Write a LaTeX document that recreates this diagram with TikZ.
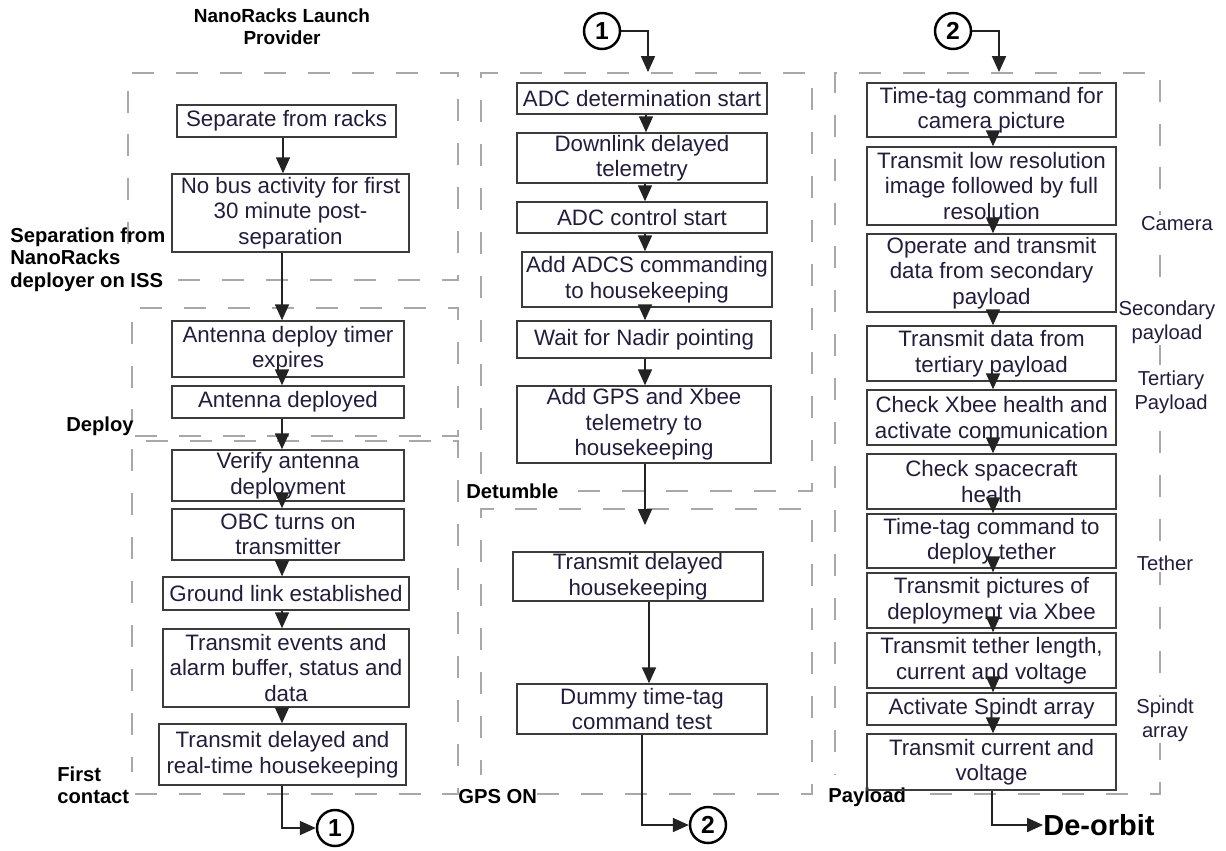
\documentclass[tikz,border=0pt]{standalone}
\usepackage{fontspec}
\setmainfont{Liberation Sans}
\usetikzlibrary{arrows.meta}
\definecolor{frameline}{RGB}{168,168,168}
\definecolor{boxline}{RGB}{60,60,60}
\definecolor{txt}{RGB}{35,28,60}
\definecolor{conn}{RGB}{35,35,35}
\tikzset{
  box/.style={draw=boxline, line width=0.9pt, inner sep=0pt, align=center, text=txt,
    font=\fontsize{12.7}{14.5}\selectfont},
  frame/.style={draw=frameline, line width=1.1pt, dash pattern=on 12.5pt off 12.5pt},
  arr/.style={draw=conn, line width=0.7pt, -{Triangle[width=8pt,length=9pt]}},
  phase/.style={font=\bfseries\fontsize{11.5}{13}\selectfont, align=left, inner sep=0pt},
  part/.style={font=\fontsize{11.5}{13.6}\selectfont, align=center, text=txt, fill=white, inner sep=1pt},
  connector/.style={circle, draw=black, line width=1.4pt, minimum size=0.72cm, inner sep=0pt,
    font=\bfseries\fontsize{14}{14}\selectfont},
}
% \stepbox{name}{x1}{y1}{x2}{y2}{text}: a process box spanning two corners (1 unit = 0.02cm)
\newcommand\stepbox[6]{\node[box, minimum width={(#4-#2)*0.02cm}, minimum height={(#5-#3)*0.02cm}]
  (#1) at ({(#2+#4)/2},{(#3+#5)/2}) {#6};}
% \vlink{x}{from}{to}: vertical arrow at a given x between two boxes
\newcommand\vlink[3]{\draw[arr] (#1,0 |- #2.south) -- (#1,0 |- #3.north);}

\begin{document}
\begin{tikzpicture}[x=0.02cm,y=-0.02cm]
\useasboundingbox (0,0) rectangle (1226,850);

% ---------------- phase frames ----------------
% separation
\draw[frame] (178,280) -- (458,280) -- (458,73) -- (128,73) -- (128,266);
% deploy
\draw[frame] (135,436) -- (458,436) -- (458,308) -- (132,308) -- (132,420);
% first contact
\draw[frame] (135,794) -- (458,794) -- (458,441) -- (132,441) -- (132,772);
% detumble
\draw[frame] (578,491) -- (812,491) -- (812,73) -- (481,73) -- (481,478);
% GPS on
\draw[frame] (537,794) -- (812,794) -- (812,509) -- (481,509) -- (481,775);
% payload
\draw[frame] (930,794) -- (1160,794) -- (1160,73) -- (835,73) -- (835,775);

% ---------------- phase labels ----------------
\node[phase, font=\bfseries\fontsize{10.8}{12.5}\selectfont, align=center] (provider) at (282,27) {NanoRacks Launch\\Provider};
\node[phase, anchor=north west] (lsep) at (10,227) {Separation from\\NanoRacks\\deployer on ISS};
\node[phase] (ldeploy) at (100,426) {Deploy};
\node[phase, anchor=north west] (lfirst) at (57,766) {First\\contact};
\node[phase, anchor=west] (ldetumble) at (466,491) {Detumble};
\node[phase, anchor=west] (lgps) at (458,797) {GPS ON};
\node[phase, anchor=west] (lpayload) at (828,797) {Payload};

\node[part] (lcam) at (1177,224) {Camera};
\node[part] (lsec) at (1167,322) {Secondary\\payload};
\node[part] (lter) at (1171,392) {Tertiary\\Payload};
\node[part] (ltet) at (1165,563) {Tether};
\node[part] (lspi) at (1165,720) {Spindt\\array};

% ---------------- left column ----------------
\stepbox{s1}{177}{105}{396}{137}{Separate from racks}
\stepbox{s2}{172}{174}{409}{252}{No bus activity for first\\30 minute post-\\separation}
\stepbox{s3}{172}{321}{404}{377}{Antenna deploy timer\\expires}
\stepbox{s4}{172}{386}{404}{418}{Antenna deployed}
\stepbox{s5}{172}{450}{404}{501}{Verify antenna\\deployment}
\stepbox{s6}{172}{509}{404}{560}{OBC turns on\\transmitter}
\stepbox{s7}{163}{577}{409}{610}{Ground link established}
\stepbox{s8}{163}{629}{409}{707}{Transmit events and\\alarm buffer, status and\\data}
\stepbox{s9}{159}{724}{406}{785}{Transmit delayed and\\real-time housekeeping}

\vlink{283}{s1}{s2}
\vlink{282}{s2}{s3}
\vlink{282}{s3}{s4}
\vlink{282}{s4}{s5}
\vlink{282}{s5}{s6}
\vlink{282}{s6}{s7}
\vlink{282}{s7}{s8}
\vlink{282}{s8}{s9}

\node[connector] (c1b) at (335,828) {1};
\draw[arr] (282,0 |- s9.south) |- (c1b.west);

% ---------------- middle column ----------------
\node[connector] (c1t) at (602,31) {1};
\coordinate (m0) at (648,72);
\draw[arr] (c1t.east) -| (m0);

\stepbox{m1}{517}{83}{767}{114}{ADC determination start}
\stepbox{m2}{517}{133}{767}{183}{Downlink delayed\\telemetry}
\stepbox{m3}{517}{202}{767}{233}{ADC control start}
\stepbox{m4}{522}{252}{772}{307}{Add ADCS commanding\\to housekeeping}
\stepbox{m5}{517}{321}{771}{358}{Wait for Nadir pointing}
\stepbox{m6}{517}{386}{771}{463}{Add GPS and Xbee\\telemetry to\\housekeeping}
\coordinate (m7) at (645,525);
\stepbox{m8}{513}{552}{763}{601}{Transmit delayed\\housekeeping}
\stepbox{m9}{517}{684}{767}{734}{Dummy time-tag\\command test}

\vlink{646}{m1}{m2}
\vlink{645}{m2}{m3}
\vlink{645}{m3}{m4}
\vlink{645}{m4}{m5}
\vlink{645}{m5}{m6}
\draw[arr] (645,0 |- m6.south) -- (m7);
\vlink{649}{m8}{m9}

\node[connector] (c2b) at (708,825) {2};
\draw[arr] (642,0 |- m9.south) |- (c2b.west);

% ---------------- right column ----------------
\node[connector] (c2t) at (953,31) {2};
\coordinate (r0) at (999,72);
\draw[arr] (c2t.east) -| (r0);

\stepbox{r1}{867}{83}{1116}{137}{Time-tag command for\\camera picture}
\stepbox{r2}{867}{147}{1116}{225}{Transmit low resolution\\image followed by full\\resolution}
\stepbox{r3}{867}{234}{1116}{312}{Operate and transmit\\data from secondary\\payload}
\stepbox{r4}{867}{326}{1116}{381}{Transmit data from\\tertiary payload}
\stepbox{r5}{867}{390}{1116}{445}{Check Xbee health and\\activate communication}
\stepbox{r6}{867}{454}{1116}{509}{Check spacecraft\\health}
\stepbox{r7}{867}{514}{1116}{568}{Time-tag command to\\deploy tether}
\stepbox{r8}{867}{573}{1116}{628}{Transmit pictures of\\deployment via Xbee}
\stepbox{r9}{867}{633}{1116}{688}{Transmit tether length,\\current and voltage}
\stepbox{r10}{867}{693}{1116}{725}{Activate Spindt array}
\stepbox{r11}{867}{734}{1116}{790}{Transmit current and\\voltage}

\vlink{993}{r1}{r2}
\vlink{993}{r2}{r3}
\vlink{993}{r3}{r4}
\vlink{993}{r4}{r5}
\vlink{993}{r5}{r6}
\vlink{993}{r6}{r7}
\vlink{993}{r7}{r8}
\vlink{993}{r8}{r9}
\vlink{993}{r9}{r10}
\vlink{993}{r10}{r11}

\node[anchor=west, inner sep=0pt, font=\bfseries\fontsize{16.5}{18}\selectfont] (deorbit) at (1043,825) {De-orbit};
\draw[arr] (992,0 |- r11.south) |- (deorbit.west);

\end{tikzpicture}
\end{document}
